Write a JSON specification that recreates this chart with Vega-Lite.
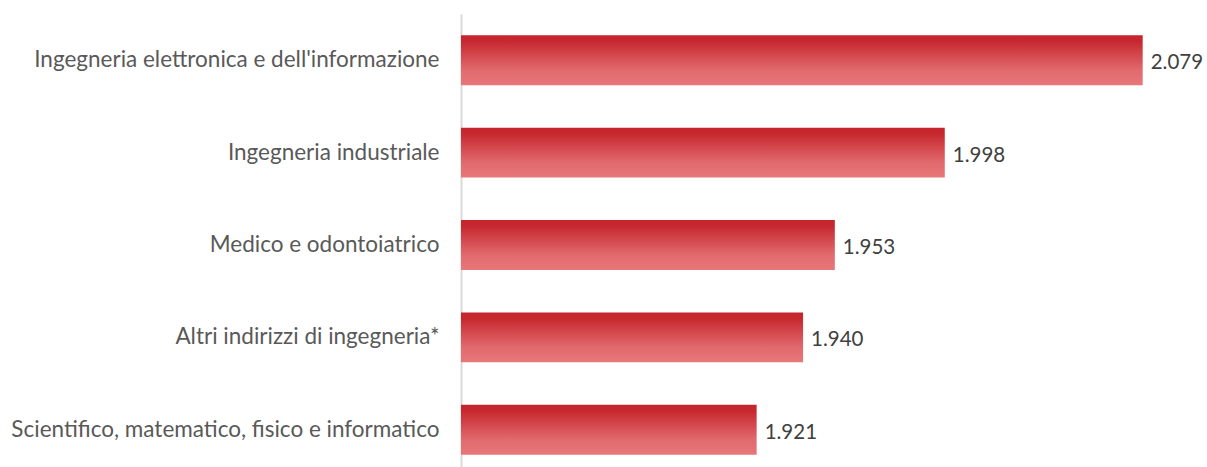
{
  "$schema": "https://vega.github.io/schema/vega-lite/v6.json",
  "autosize": {"type": "none"},
  "padding": {"left": 461, "top": 14, "right": 13, "bottom": 0},
  "width": 733,
  "height": 462,
  "background": "white",
  "config": {"view": {"stroke": null}},
  "data": {
    "values": [
      {"indirizzo": "Ingegneria elettronica e dell'informazione", "valore": 2079, "etichetta": "2.079"},
      {"indirizzo": "Ingegneria industriale", "valore": 1998, "etichetta": "1.998"},
      {"indirizzo": "Medico e odontoiatrico", "valore": 1953, "etichetta": "1.953"},
      {"indirizzo": "Altri indirizzi di ingegneria*", "valore": 1940, "etichetta": "1.940"},
      {"indirizzo": "Scientifico, matematico, fisico e informatico", "valore": 1921, "etichetta": "1.921"}
    ]
  },
  "encoding": {
    "y": {
      "field": "indirizzo",
      "type": "nominal",
      "sort": null,
      "scale": {"paddingInner": 0.46, "paddingOuter": 0.23},
      "axis": {
        "title": null,
        "ticks": false,
        "domainColor": "#d9d9d9",
        "domainWidth": 2,
        "labelFont": "Lato",
        "labelFontSize": 22.5,
        "labelColor": "#595959",
        "labelPadding": 22,
        "labelLimit": 460
      }
    },
    "x": {
      "field": "valore",
      "type": "quantitative",
      "scale": {"domain": [1800, 2100], "zero": false, "clamp": true},
      "axis": null
    }
  },
  "layer": [
    {
      "mark": {
        "type": "bar",
        "clip": true,
        "color": {
          "gradient": "linear",
          "x1": 0, "y1": 0, "x2": 0, "y2": 1,
          "stops": [
            {"offset": 0, "color": "#c5242c"},
            {"offset": 0.12, "color": "#c7282f"},
            {"offset": 0.7, "color": "#e16a6e"},
            {"offset": 1, "color": "#e8777a"}
          ]
        }
      }
    },
    {
      "mark": {
        "type": "text",
        "align": "left",
        "baseline": "middle",
        "dx": 8,
        "dy": 3,
        "font": "Lato",
        "fontSize": 20.5,
        "color": "#404040"
      },
      "encoding": {"text": {"field": "etichetta", "type": "nominal"}}
    }
  ]
}
